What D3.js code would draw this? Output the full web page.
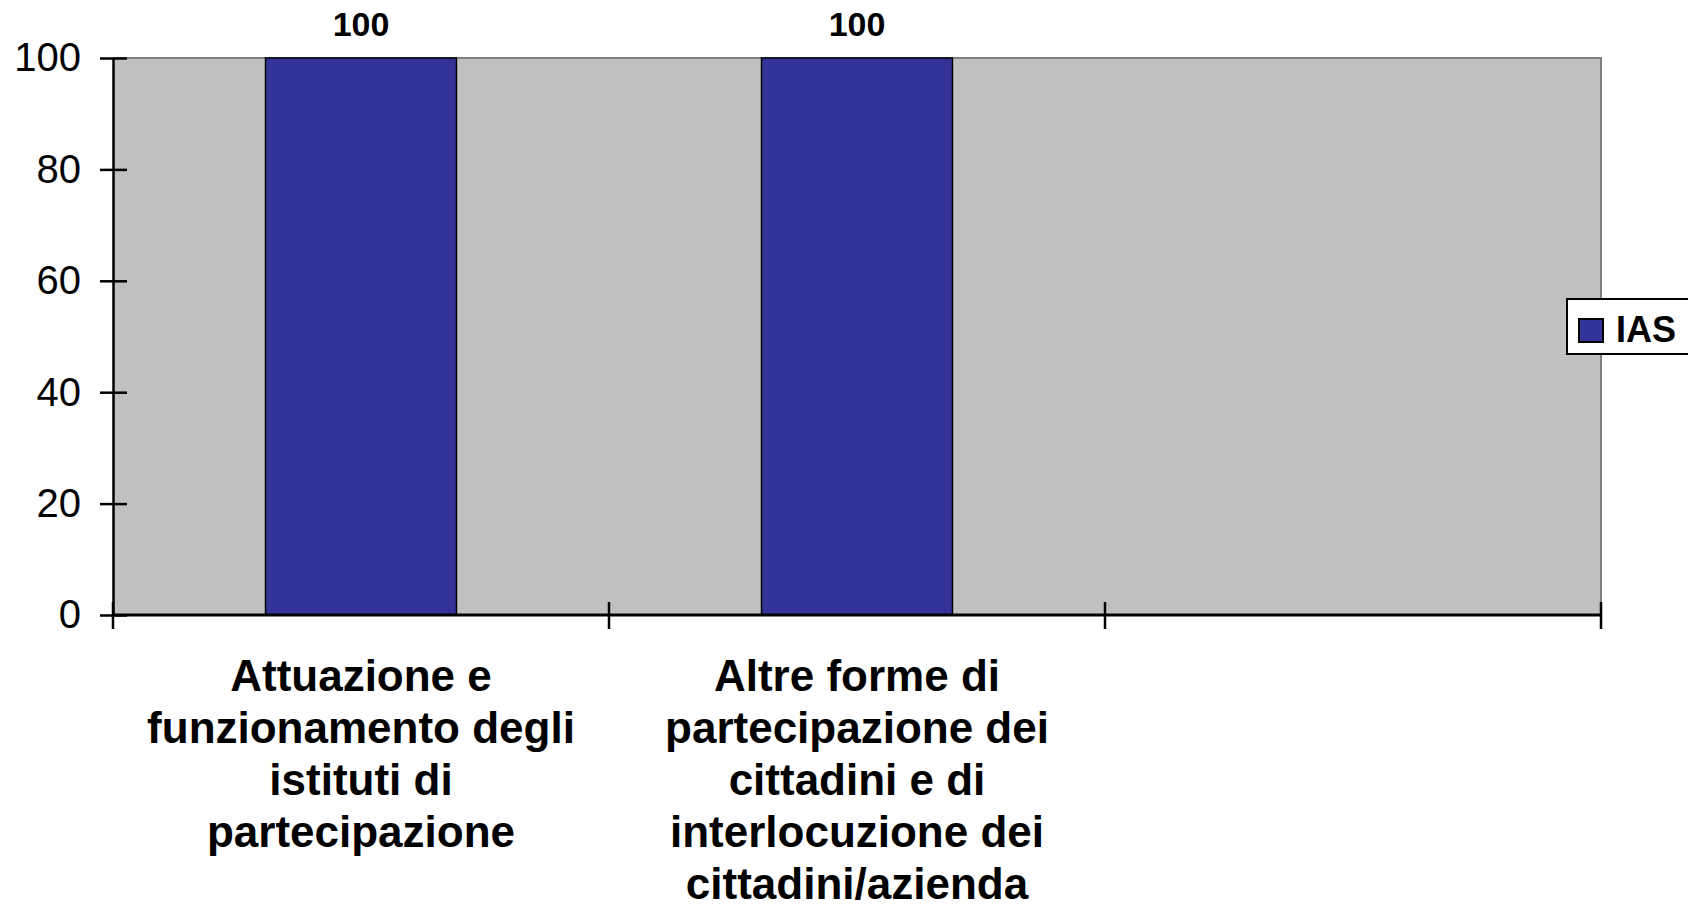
<!DOCTYPE html>
<html>
<head>
<meta charset="utf-8">
<script src="https://cdn.jsdelivr.net/npm/d3@7"></script>
<style>
html,body{margin:0;padding:0;background:#fff;}
svg{display:block;font-family:"Liberation Sans",Arial,sans-serif;}
</style>
</head>
<body>
<svg id="chart" width="1688" height="909"></svg>
<script>
// Data
const categories = ["c1", "c2", "c3"];
const categoryLabels = [
  ["Attuazione e", "funzionamento degli", "istituti di", "partecipazione"],
  ["Altre forme di", "partecipazione dei", "cittadini e di", "interlocuzione dei", "cittadini/azienda"],
  []
];
const seriesName = "IAS";
const values = [100, 100, null];
const yTicks = [0, 20, 40, 60, 80, 100];

const svg = d3.select("#chart");
const m = {left: 113, right: 1601, top: 58, bottom: 615};

const x0 = d3.scaleBand().domain(categories).range([m.left, m.right]).padding(0);
const x1 = d3.scaleBand().domain([seriesName]).range([0, x0.bandwidth()]).padding(0.444);
const y = d3.scaleLinear().domain([0, 100]).range([m.bottom, m.top]);

// plot area
svg.append("rect")
  .attr("x", m.left).attr("y", m.top)
  .attr("width", m.right - m.left).attr("height", m.bottom - m.top)
  .attr("fill", "#C0C0C0");
svg.append("path")
  .attr("d", `M${m.left},${m.top}H${m.right}V${m.bottom}`)
  .attr("fill", "none").attr("stroke", "#808080").attr("stroke-width", 2);

const barData = categories.map((c, i) => ({c, v: values[i]})).filter(d => d.v != null);

// bars
svg.append("g").selectAll("rect")
  .data(barData)
  .join("rect")
  .attr("x", d => x0(d.c) + x1(seriesName))
  .attr("y", d => y(d.v))
  .attr("width", x1.bandwidth())
  .attr("height", d => y(0) - y(d.v))
  .attr("fill", "#333399")
  .attr("stroke", "#000").attr("stroke-width", 1.5);

// data labels
svg.append("g").selectAll("text")
  .data(barData)
  .join("text")
  .attr("x", d => x0(d.c) + x1(seriesName) + x1.bandwidth() / 2)
  .attr("y", d => y(d.v) - 22)
  .attr("text-anchor", "middle")
  .attr("font-size", 34).attr("font-weight", "bold")
  .text(d => d.v);

// Y axis
const yAxis = d3.axisLeft(y).tickValues(yTicks).tickSize(0).tickPadding(32);
const gy = svg.append("g").attr("transform", `translate(${m.left},0)`).call(yAxis);
gy.select(".domain").attr("stroke", "#000").attr("stroke-width", 2.5);
gy.selectAll(".tick text").attr("font-size", 40).attr("fill", "#000")
  .attr("font-family", "Liberation Sans, Arial, sans-serif");
gy.selectAll(".tick").append("line")
  .attr("x1", -13).attr("x2", 14).attr("stroke", "#000").attr("stroke-width", 2.5);

// X axis
const bounds = categories.map(c => x0(c)).concat([m.right]);
svg.append("line")
  .attr("x1", m.left).attr("x2", m.right)
  .attr("y1", y(0)).attr("y2", y(0))
  .attr("stroke", "#000").attr("stroke-width", 3);
svg.append("g").selectAll("line")
  .data(bounds).join("line")
  .attr("x1", d => d).attr("x2", d => d)
  .attr("y1", y(0) - 13).attr("y2", y(0) + 14)
  .attr("stroke", "#000").attr("stroke-width", 2.5);

// category labels
const lab = svg.append("g").selectAll("text")
  .data(categories.map((c, i) => ({c, lines: categoryLabels[i]})))
  .join("text")
  .attr("text-anchor", "middle")
  .attr("font-size", 44).attr("font-weight", "bold");
lab.selectAll("tspan")
  .data(d => d.lines.map(l => ({c: d.c, l})))
  .join("tspan")
  .attr("x", d => x0(d.c) + x0.bandwidth() / 2)
  .attr("y", (d, i) => 691 + i * 52)
  .text(d => d.l);

// legend
const lg = svg.append("g");
lg.append("rect").attr("x", 1567).attr("y", 299).attr("width", 140).attr("height", 55)
  .attr("fill", "#fff").attr("stroke", "#000").attr("stroke-width", 2);
lg.append("rect").attr("x", 1579).attr("y", 319).attr("width", 24).attr("height", 23)
  .attr("fill", "#333399").attr("stroke", "#000").attr("stroke-width", 2);
lg.append("text").attr("x", 1616).attr("y", 342)
  .attr("font-size", 36).attr("font-weight", "bold").text(seriesName);
</script>
</body>
</html>
